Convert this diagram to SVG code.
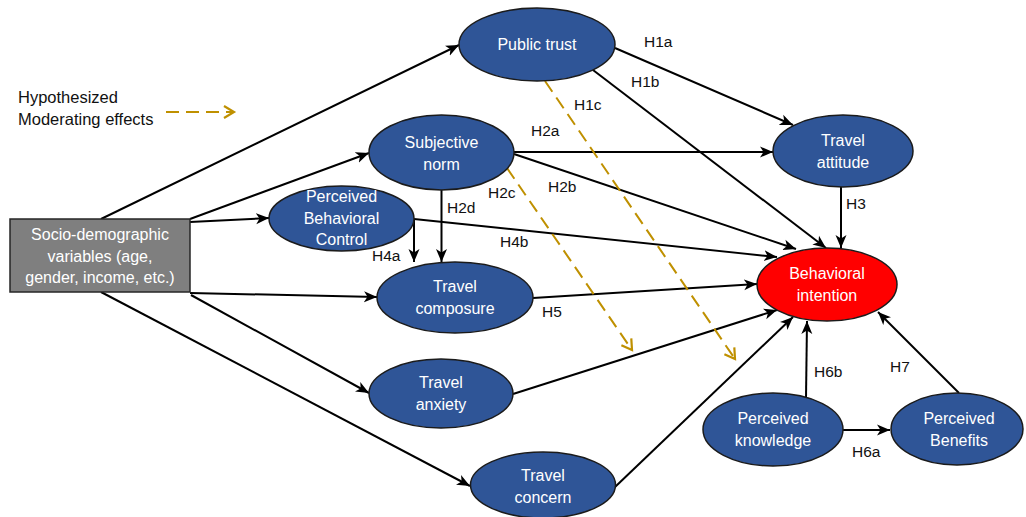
<svg xmlns="http://www.w3.org/2000/svg" width="1026" height="517" viewBox="0 0 1026 517">
<style>
.node ellipse{fill:#2F5597;stroke:#1b1b1b;stroke-width:1.5}
.node text,.box text{font-family:"Liberation Sans",Arial,sans-serif;font-size:16px;fill:#ffffff;text-anchor:middle}
.conn line{stroke:#000;stroke-width:2;marker-end:url(#arr)}
.mod line{stroke:#BF9000;stroke-width:2;stroke-dasharray:13,7;marker-end:url(#garr)}
.lbl{font-family:"Liberation Sans",Arial,sans-serif;font-size:15.5px;fill:#111}
</style>
<defs>
<marker id="arr" markerUnits="userSpaceOnUse" markerWidth="14" markerHeight="12" refX="13" refY="6" orient="auto">
<path d="M0,0.5 L13,6 L0,11.5 L3.5,6 z" fill="#000"/>
</marker>
<marker id="garr" markerUnits="userSpaceOnUse" markerWidth="14" markerHeight="14" refX="11" refY="7" orient="auto">
<path d="M1,1 L11,7 L1,13" fill="none" stroke="#BF9000" stroke-width="2.2"/>
</marker>
</defs>
<rect width="1026" height="517" fill="#ffffff"/>

<g id="legend">
<text class="lbl" x="18" y="103" style="font-size:16.5px">Hypothesized</text>
<text class="lbl" x="18" y="125" style="font-size:16.5px">Moderating effects</text>
<g class="mod"><line x1="166" y1="112" x2="234" y2="112"/></g>
</g>

<g id="connectors">
<g class="conn">
<line x1="101" y1="219" x2="459" y2="45"/>
<line x1="190" y1="219" x2="369" y2="153"/>
<line x1="190" y1="222" x2="269" y2="218"/>
<line x1="190" y1="293" x2="377" y2="297"/>
<line x1="191" y1="295" x2="369" y2="393"/>
<line x1="101" y1="292" x2="470" y2="486"/>
<line x1="615" y1="48" x2="793" y2="125"/>
<line x1="593" y1="70" x2="826" y2="248"/>
<line x1="514" y1="152" x2="773" y2="152"/>
<line x1="514" y1="154" x2="796" y2="249"/>
<line x1="441.5" y1="190" x2="441.5" y2="262"/>
<line x1="414" y1="220" x2="414" y2="262"/>
<line x1="414" y1="219" x2="777" y2="257"/>
<line x1="533" y1="298" x2="757" y2="284"/>
<line x1="513" y1="394" x2="777" y2="310"/>
<line x1="615" y1="487" x2="793" y2="317"/>
<line x1="841" y1="187" x2="841" y2="248"/>
<line x1="806" y1="398" x2="807" y2="321"/>
<line x1="843" y1="430" x2="890" y2="430"/>
<line x1="959" y1="393" x2="878" y2="312"/>
</g>
<g class="mod">
<line x1="545" y1="81" x2="735" y2="359"/>
<line x1="507" y1="168" x2="632" y2="350"/>
</g>
<g id="labels">
<text class="lbl" x="644" y="47">H1a</text>
<text class="lbl" x="631" y="87">H1b</text>
<text class="lbl" x="574" y="110">H1c</text>
<text class="lbl" x="531" y="136">H2a</text>
<text class="lbl" x="548" y="192">H2b</text>
<text class="lbl" x="488" y="198">H2c</text>
<text class="lbl" x="447" y="213">H2d</text>
<text class="lbl" x="372" y="261">H4a</text>
<text class="lbl" x="500" y="247">H4b</text>
<text class="lbl" x="846" y="209">H3</text>
<text class="lbl" x="542" y="317">H5</text>
<text class="lbl" x="814" y="377">H6b</text>
<text class="lbl" x="890" y="372">H7</text>
<text class="lbl" x="852" y="457">H6a</text>
</g>
</g>

<g id="socio" class="box">
<rect x="10" y="219" width="180" height="73" fill="#7F7F7F" stroke="#262626" stroke-width="1.5"/>
<text x="100" y="240">Socio-demographic</text>
<text x="100" y="262">variables (age,</text>
<text x="100" y="283">gender, income, etc.)</text>
</g>

<g id="public-trust" class="node">
<ellipse cx="537" cy="44.5" rx="78" ry="36.5"/>
<text x="537" y="50">Public trust</text>
</g>
<g id="subjective-norm" class="node">
<ellipse cx="441.5" cy="152.5" rx="72.5" ry="37.5"/>
<text x="441.5" y="148">Subjective</text>
<text x="441.5" y="170">norm</text>
</g>
<g id="pbc" class="node">
<ellipse cx="341.5" cy="218.5" rx="72.5" ry="32.5"/>
<text x="341.5" y="202">Perceived</text>
<text x="341.5" y="224">Behavioral</text>
<text x="341.5" y="245">Control</text>
</g>
<g id="travel-composure" class="node">
<ellipse cx="455" cy="297.5" rx="78" ry="35.5"/>
<text x="455" y="292">Travel</text>
<text x="455" y="314">composure</text>
</g>
<g id="travel-anxiety" class="node">
<ellipse cx="441" cy="393.5" rx="72" ry="34.5"/>
<text x="441" y="388">Travel</text>
<text x="441" y="410">anxiety</text>
</g>
<g id="travel-concern" class="node">
<ellipse cx="543" cy="485" rx="72.5" ry="33"/>
<text x="543" y="481">Travel</text>
<text x="543" y="503">concern</text>
</g>
<g id="travel-attitude" class="node">
<ellipse cx="843" cy="151" rx="70" ry="36"/>
<text x="843" y="146">Travel</text>
<text x="843" y="168">attitude</text>
</g>
<g id="behavioral-intention" class="node">
<ellipse cx="827" cy="284.5" rx="70" ry="36.5" style="fill:#FF0000"/>
<text x="827" y="279">Behavioral</text>
<text x="827" y="301">intention</text>
</g>
<g id="perceived-knowledge" class="node">
<ellipse cx="773" cy="429.5" rx="70" ry="36.5"/>
<text x="773" y="424">Perceived</text>
<text x="773" y="446">knowledge</text>
</g>
<g id="perceived-benefits" class="node">
<ellipse cx="957" cy="429" rx="66" ry="36"/>
<text x="959" y="424">Perceived</text>
<text x="959" y="446">Benefits</text>
</g>
</svg>
